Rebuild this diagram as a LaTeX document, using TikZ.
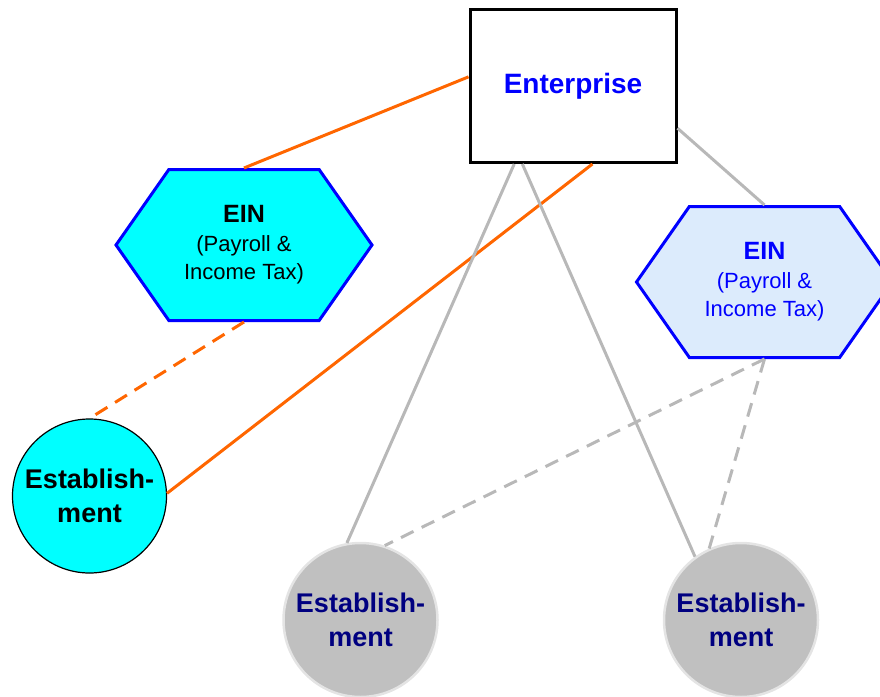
\documentclass[tikz,border=0pt]{standalone}
\usepackage{fontspec}
\setmainfont{Liberation Sans}
\usetikzlibrary{shapes.symbols}
\definecolor{linkorange}{RGB}{255,102,0}
\definecolor{linkgray}{RGB}{184,184,184}
\definecolor{einblue}{RGB}{0,0,255}
\definecolor{einaqua}{RGB}{0,255,255}
\definecolor{einpale}{RGB}{220,235,252}
\definecolor{sitegray}{RGB}{192,192,192}
\definecolor{siterim}{RGB}{228,228,228}
\definecolor{sitetext}{RGB}{0,0,128}

\begin{document}
\begin{tikzpicture}[x=1pt,y=-1pt,
    firm node/.style={rectangle,draw=black,fill=white,line width=3pt,minimum width=206pt,minimum height=153pt,inner sep=0pt,font=\fontsize{28}{32}\selectfont\bfseries,text=einblue},
    ein node/.style={signal,signal to=west and east,signal pointer angle=110,draw=einblue,line width=3pt,minimum width=256pt,minimum height=151pt,inner sep=0pt,align=center,font=\fontsize{22}{28.5}\selectfont},
    site node/.style={circle,minimum size=154pt,inner sep=0pt,align=center,font=\fontsize{27}{34}\selectfont\bfseries},
    orange link/.style={draw=linkorange,line width=3pt},
    gray link/.style={draw=linkgray,line width=3pt},
    broken link/.style={dash pattern=on 14pt off 9pt}]
    \useasboundingbox (0,0) rectangle (880,696);

    \node[firm node] (firm) at (573,86) {Enterprise};
    \node[ein node,fill=einaqua] (einL) at (244,245) {{\bfseries\fontsize{25}{28}\selectfont EIN}\\(Payroll \&\\Income Tax)};
    \node[ein node,fill=einpale,text=einblue] (einR) at (764.5,282) {{\bfseries\fontsize{25}{28}\selectfont EIN}\\(Payroll \&\\Income Tax)};
    \node[site node,draw=black,line width=1.2pt,fill=einaqua] (siteL) at (89.5,496) {Establish-\\ment};
    \node[site node,draw=siterim,line width=2.5pt,fill=sitegray,text=sitetext] (siteM) at (360.5,620) {Establish-\\ment};
    \node[site node,draw=siterim,line width=2.5pt,fill=sitegray,text=sitetext] (siteR) at (741,620) {Establish-\\ment};

    \path
        (firm.175) edge[orange link] (einL.north)
        (firm.-76) edge[orange link] (siteL.2)
        (einL.south) edge[orange link,broken link] (siteL.north)
        (firm.-22) edge[gray link] (einR.north)
        (firm.-127) edge[gray link] (siteM.100)
        (firm.-123) edge[gray link] (siteR.126)
        (einR.south) edge[gray link,broken link] (siteM.72)
        (einR.south) edge[gray link,broken link] (siteR.114)
    ;
\end{tikzpicture}
\end{document}
